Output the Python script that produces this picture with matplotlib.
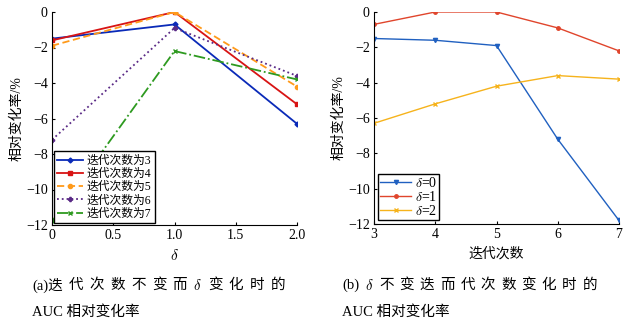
import matplotlib
matplotlib.use("Agg")
import matplotlib.pyplot as plt

plt.rcParams['font.family'] = ['Liberation Serif', 'Noto Sans CJK SC', 'DejaVu Sans']
plt.rcParams['mathtext.fontset'] = 'cm'

# Panel (a)
delta = [0, 1, 2]
iter_labels = ['迭代次数为3', '迭代次数为4', '迭代次数为5', '迭代次数为6', '迭代次数为7']
iter3 = [-1.5, -0.7, -6.3]
iter4 = [-1.6, 0.0, -5.2]
iter5 = [-1.9, 0.0, -4.2]
iter6 = [-7.2, -0.9, -3.6]
iter7 = [-11.8, -2.2, -3.8]

# Panel (b)
iters = [3, 4, 5, 6, 7]
delta_labels = [r'$\delta$=0', r'$\delta$=1', r'$\delta$=2']
d0 = [-1.5, -1.6, -1.9, -7.2, -11.8]
d1 = [-0.7, 0.0, 0.0, -0.9, -2.2]
d2 = [-6.3, -5.2, -4.2, -3.6, -3.8]

yticks = [-12, -10, -8, -6, -4, -2, 0]
ytick_labels = ['−12', '−10', '−8', '−6', '−4', '−2', '0']

cap_a1 = ['(a)迭', '代', '次', '数', '不', '变', '而', r'$\delta$', '变', '化', '时', '的']
cap_b1 = ['(b)', r'$\delta$', '不', '变', '迭', '而', '代', '次', '数', '变', '化', '时', '的']
cap_2 = 'AUC 相对变化率'

W, H = 623, 327
fig = plt.figure(figsize=(6.23, 3.27), dpi=100)
axa = fig.add_axes([52 / W, 1 - 225 / H, 245 / W, 213 / H])
axb = fig.add_axes([374 / W, 1 - 224 / H, 245 / W, 212 / H])

styles_a = [
    dict(color='#0a2ab8', ls='-', marker='D', ms=2.5),
    dict(color='#d81414', ls='-', marker='s', ms=2.5),
    dict(color='#ff9a1a', ls=(0, (4, 2)), marker='o', ms=3),
    dict(color='#5a2a86', ls=':', marker='P', ms=3),
    dict(color='#2e9a20', ls='-.', marker='x', ms=2.5),
]
for ys, lab, st in zip([iter3, iter4, iter5, iter6, iter7], iter_labels, styles_a):
    axa.plot(delta, ys, label=lab, lw=1.3, **st)

axa.set_xlim(0, 2)
axa.set_ylim(-12, 0)
axa.set_xticks([0, 0.5, 1.0, 1.5, 2.0])
axa.set_xticklabels(['0', '0.5', '1.0', '1.5', '2.0'])
axa.set_yticks(yticks)
axa.set_yticklabels(ytick_labels)
axa.set_xlabel(r'$\delta$', fontsize=11, labelpad=4)
axa.set_ylabel('相对变化率/%', fontsize=10, labelpad=2)
axa.legend(loc='lower left', fontsize=8.5, frameon=True, fancybox=False,
           edgecolor='black', framealpha=1, handlelength=2.2, borderpad=0.3,
           labelspacing=0.1, handletextpad=0.3, borderaxespad=0.15)

styles_b = [
    dict(color='#2060c0', marker='v', ms=3),
    dict(color='#e0452c', marker='o', ms=2.5),
    dict(color='#f6b31c', marker='x', ms=2.5),
]
for ys, lab, st in zip([d0, d1, d2], delta_labels, styles_b):
    axb.plot(iters, ys, label=lab, lw=1.0, ls='-', **st)

axb.set_xlim(3, 7)
axb.set_ylim(-12, 0)
axb.set_xticks(iters)
axb.set_yticks(yticks)
axb.set_yticklabels(ytick_labels)
axb.set_xlabel('迭代次数', fontsize=10, labelpad=4)
axb.set_ylabel('相对变化率/%', fontsize=10, labelpad=2)
axb.legend(loc='lower left', fontsize=10, frameon=True, fancybox=False,
           edgecolor='black', framealpha=1, handlelength=2.2, borderpad=0.15,
           labelspacing=0.0, handletextpad=0.3, borderaxespad=0.3)

for ax in (axa, axb):
    ax.spines['top'].set_visible(False)
    ax.spines['right'].set_visible(False)
    ax.tick_params(direction='in', length=2, labelsize=10, pad=3)
    for s in ax.spines.values():
        s.set_linewidth(0.8)

# Captions (justified first line)
renderer = fig.canvas.get_renderer()
CAP_FS = 10.5


def justified(tokens, x0, x1, y):
    texts = [fig.text(0, 1 - y / H, t, fontsize=CAP_FS, ha='left', va='center') for t in tokens]
    widths = [t.get_window_extent(renderer).width for t in texts]
    gap = (x1 - x0 - sum(widths)) / (len(tokens) - 1)
    x = x0
    for t, w in zip(texts, widths):
        t.set_x(x / W)
        x += w + gap


justified(cap_a1, 32, 285, 285)
justified(cap_b1, 342, 597, 285)
fig.text(32 / W, 1 - 312 / H, cap_2, fontsize=CAP_FS, ha='left', va='center')
fig.text(342 / W, 1 - 312 / H, cap_2, fontsize=CAP_FS, ha='left', va='center')

fig.savefig('out.png', dpi=100)
